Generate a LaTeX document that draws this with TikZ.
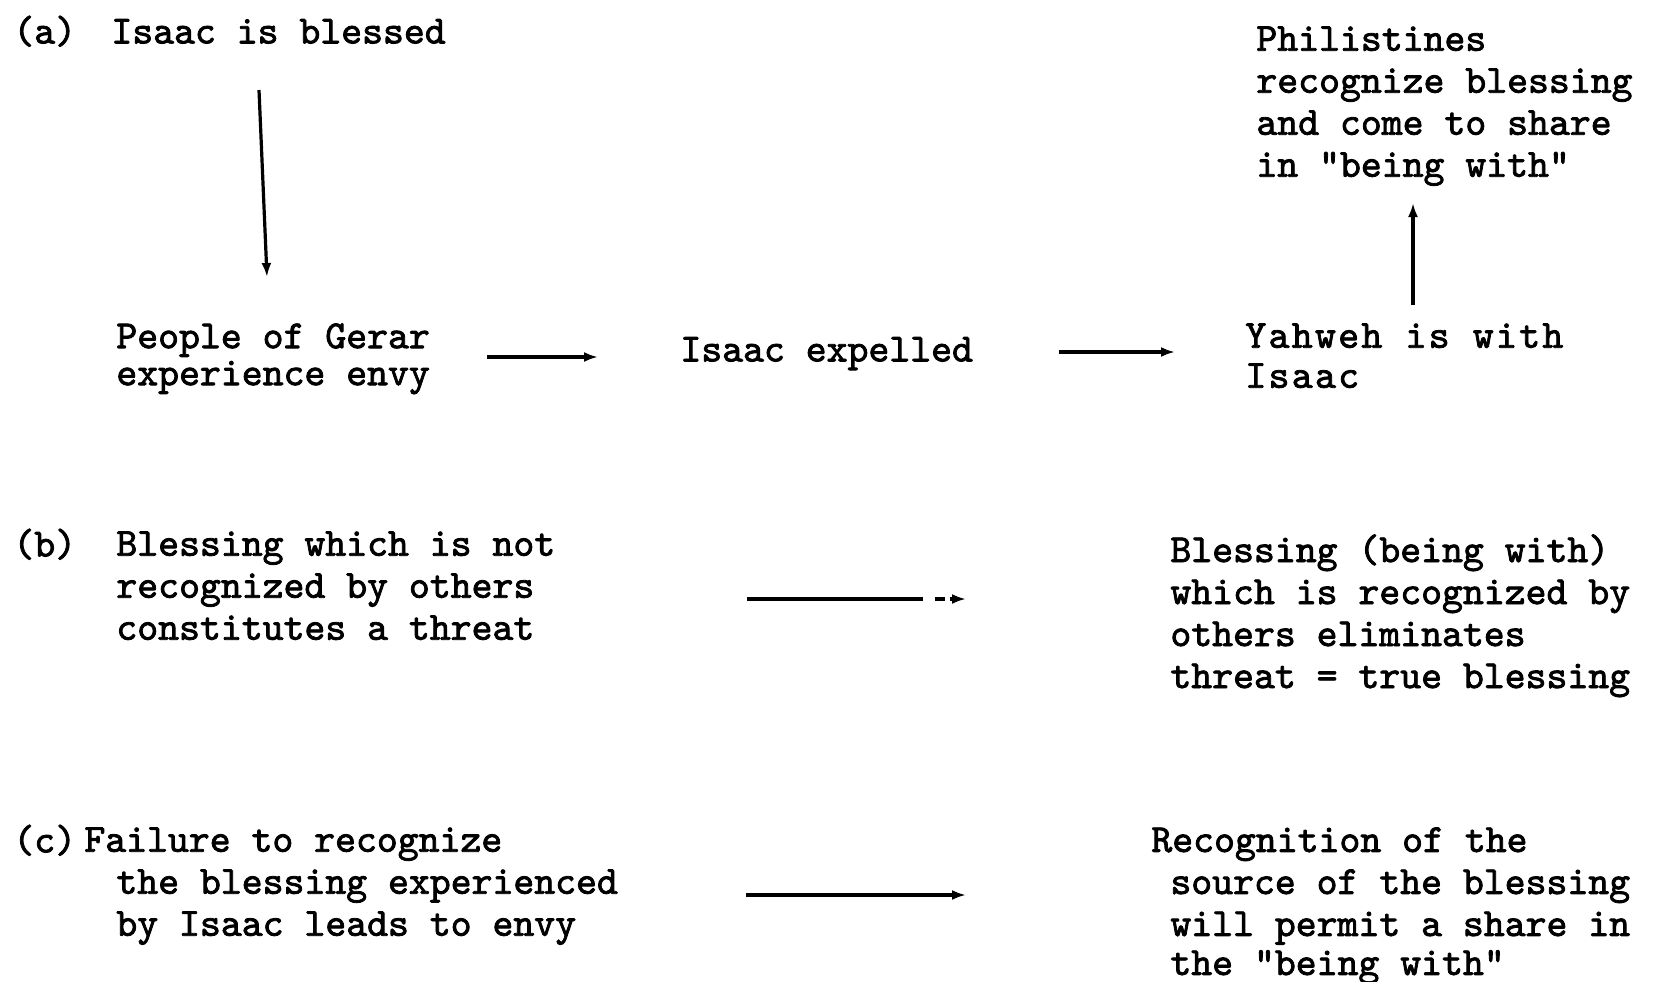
\documentclass[tikz,border=0pt]{standalone}
\usepackage{fontspec}
\newfontfamily\tw{lmmono10-regular.otf}[FakeBold=2]
\usetikzlibrary{arrows.meta}
\tikzset{
  txt/.style={anchor=north west, inner sep=0pt, align=left,
    font=\tw\fontsize{19.9pt}{21pt}\selectfont,
    execute at begin node=\rule{0pt}{16pt}},
  ln/.style={line width=1.6pt},
  arr/.style={ln, -{Latex[length=7pt,width=5pt]}},
}
\begin{document}
\begin{tikzpicture}[x=0.5pt,y=-0.5pt]
\useasboundingbox (0,0) rectangle (1653,981);
% texts
\node[txt] (la) at (13,11) {(a)};
\node[txt] (t1) at (111,11) {Isaac is blessed};
\node[txt] (gerar) at (116,323) {People of Gerar\\[-2.5pt]experience envy};
\node[txt] (exp) at (680,329) {Isaac expelled};
\node[txt] (yah) at (1245,323) {\addfontfeatures{LetterSpace=5.8}Yahweh is with\\[-1pt]\addfontfeatures{LetterSpace=5.8}Isaac};
\node[txt] (phil) at (1256,26) {Philistines\\recognize blessing\\and come to share\\in "being with"};
\node[txt] (lb) at (13,524) {(b)};
\node[txt] (tb) at (116,531) {Blessing which is not\\recognized by others\\constitutes a threat};
\node[txt] (rb) at (1170,534) {Blessing (being with)\\which is recognized by\\others eliminates\\threat = true blessing};
\node[txt] (lc) at (13,820) {(c)};
\node[txt] (tc) at (116,827) {\hspace*{-16pt}Failure to recognize\\the blessing experienced\\by Isaac leads to envy};
\node[txt] (rc) at (1170,827) {\hspace*{-9.5pt}Recognition of the\\source of the blessing\\will permit a share in\\[-1.5pt]the "being with"};
% arrow end points
\coordinate (d1) at (259,90);
\coordinate (d2) at (267,277);
\coordinate (h1s) at (487,357);
\coordinate (h1e) at (598,357);
\coordinate (h2s) at (1059,352);
\coordinate (h2e) at (1175,352);
\coordinate (u1) at (1413,305);
\coordinate (u2) at (1413,203);
\coordinate (bs) at (747,599);
\coordinate (bm) at (923,599);
\coordinate (bd1) at (935,599);
\coordinate (bd2) at (945,599);
\coordinate (bh) at (950,599);
\coordinate (be) at (966,599);
\coordinate (cs) at (746,895);
\coordinate (ce) at (966,895);
% arrows
\draw[arr] (d1) -- (d2);
\draw[arr] (h1s) -- (h1e);
\draw[arr] (h2s) -- (h2e);
\draw[arr] (u1) -- (u2);
\draw[ln] (bs) -- (bm);
\draw[ln] (bd1) -- (bd2);
\draw[arr] (bh) -- (be);
\draw[arr] (cs) -- (ce);
\end{tikzpicture}
\end{document}
